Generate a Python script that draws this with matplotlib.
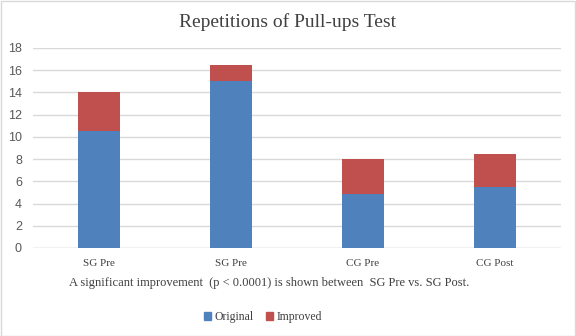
import matplotlib.pyplot as plt
from matplotlib.patches import Rectangle
import numpy as np

categories = ["SG Pre", "SG Pre", "CG Pre", "CG Post"]
original = [10.5, 15.0, 4.9, 5.5]
improved = [3.5, 1.5, 3.1, 3.0]
yticks = [0, 2, 4, 6, 8, 10, 12, 14, 16, 18]

blue = "#4F81BD"
red = "#C0504D"
serif = ["Liberation Serif", "DejaVu Serif"]
sans = ["Liberation Sans", "DejaVu Sans"]

W, H = 576, 336
fig = plt.figure(figsize=(W / 100, H / 100), dpi=100)
ax = fig.add_axes([33 / W, 1 - 248 / H, 528 / W, 200 / H])

x = np.arange(len(categories))
ax.bar(x, original, width=0.32, color=blue, zorder=3, label="Original")
ax.bar(x, improved, bottom=original, width=0.32, color=red, zorder=3, label="Improved")

ax.set_xlim(-0.5, len(categories) - 0.5)
ax.set_ylim(0, 18)
ax.set_yticks(yticks)
ax.set_yticklabels([str(t) for t in yticks], family=sans, fontsize=9, color="#595959")
ax.set_xticks(x)
ax.set_xticklabels(categories, family=serif, fontsize=8, color="#404040")
ax.tick_params(axis="both", length=0)
ax.tick_params(axis="y", pad=8)
ax.tick_params(axis="x", pad=8)
ax.yaxis.grid(True, color="#D9D9D9", linewidth=1, zorder=0)
for s in ax.spines.values():
    s.set_visible(False)
ax.axhline(0, color="#D9D9D9", linewidth=1, zorder=2)

fig.text(0.5, 1 - 22 / H, "Repetitions of Pull-ups Test", ha="center", va="center",
         family=serif, fontsize=14, color="#404040")
fig.text(269 / W, 1 - 283 / H,
         "A significant improvement  (p < 0.0001) is shown between  SG Pre vs. SG Post.",
         ha="center", va="center", family=serif, fontsize=9, color="#404040")

handles = [Rectangle((0, 0), 1, 1, color=blue), Rectangle((0, 0), 1, 1, color=red)]
leg = fig.legend(handles, ["Original", "Improved"], loc="center", ncol=2,
                 bbox_to_anchor=(263 / W, 1 - 317 / H), frameon=False,
                 prop={"family": serif, "size": 8.5}, handlelength=0.6, handleheight=0.6,
                 handletextpad=0.3, columnspacing=1.0)
for t in leg.get_texts():
    t.set_color("#404040")

fig.patches.append(Rectangle((0.5 / W, 0.5 / H), 1 - 1.5 / W, 1 - 1.5 / H, transform=fig.transFigure,
                             fill=False, edgecolor="#D9D9D9", linewidth=1))

fig.savefig("out.png", dpi=100)
